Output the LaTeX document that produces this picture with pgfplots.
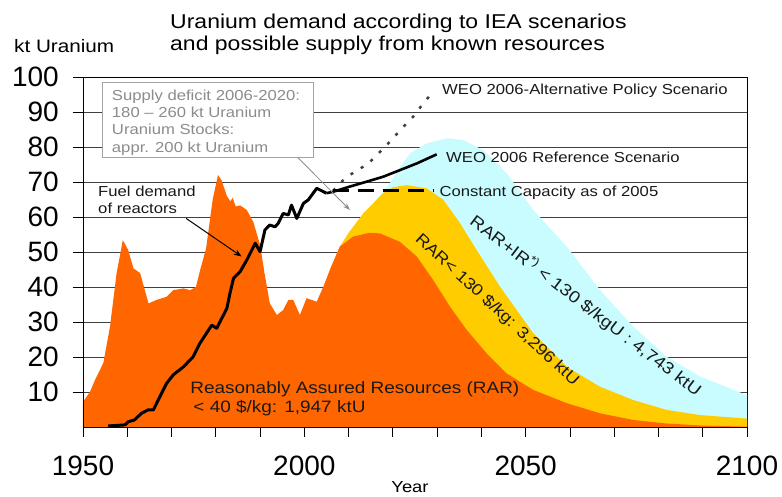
\documentclass[border=0pt]{standalone}
\usepackage{fontspec}
\setmainfont{Liberation Sans}[FakeStretch=1.15]
\newfontfamily\tickfont{Liberation Sans}
\usepackage{pgfplots}
\pgfplotsset{compat=1.18}
\usetikzlibrary{arrows.meta}
\definecolor{rarorange}{HTML}{FF6600}
\definecolor{raryellow}{HTML}{FFCC00}
\definecolor{rarcyan}{HTML}{C8FCFF}
\definecolor{boxgray}{HTML}{8C8C8C}
\newcommand\fs[1]{\fontsize{#1}{#1}\selectfont}

\begin{document}
\begin{tikzpicture}
\path[use as bounding box] (-83pt,-70pt) rectangle (699pt,427pt);
\begin{axis}[
  at={(0pt,0pt)}, anchor=south west,
  width=664pt, height=350pt, scale only axis,
  xmin=1950, xmax=2100, ymin=0, ymax=100,
  xtick={1950,2000,2050,2100},
  xticklabels={1950,2000,2050,2100},
  minor xtick={1960,1970,...,2090},
  ytick={10,20,...,100},
  yticklabels={10,20,30,40,50,60,70,80,90,100},
  xtick pos=left, ytick pos=left,
  tick align=outside,
  major tick length=10pt, minor tick length=10pt,
  tick style={black, line width=0.8pt},
  ymajorgrids, grid style={black!75, line width=0.8pt},
  axis line style={black, line width=0.8pt},
  ticklabel style={font=\tickfont\fs{28}, inner sep=0pt},
  yticklabel style={xshift=-14pt},
  xticklabel style={yshift=-19pt},
  clip=false,
]
% supply curves (filled, back to front)
\addplot[draw=none, fill=rarcyan] coordinates {
  (2005.8,45) (2010,55) (2015,63) (2019.3,69.6) (2021.5,74) (2023.9,78.2)
  (2027.6,81) (2032.1,82.5) (2035.9,82) (2040.4,79.1) (2045.7,72.5)
  (2051.7,62) (2059.3,51.5) (2066.8,39.1) (2074.3,28.7) (2081.8,20.1)
  (2089.4,14.4) (2100,9.1)
} \closedcycle;
\addplot[draw=none, fill=raryellow] coordinates {
  (2005.8,45) (2008,51.5) (2010,55.5) (2013.3,61) (2017.8,66.8) (2020,68.5)
  (2023.1,69.1) (2027.6,68.2) (2031.4,64.9) (2035.2,58.2) (2038.9,50.6)
  (2044.2,40.1) (2051.7,26.8) (2059.3,17.2) (2066.8,11.5) (2074.3,7.7)
  (2081.8,4.9) (2089.4,3.4) (2100,2.4)
} \closedcycle;
\addplot[draw=none, fill=rarorange] coordinates {
  (1950,7.2) (1951.6,10.1) (1952.7,13.4) (1954.6,18.3) (1956.1,28.7)
  (1957.6,44) (1959,53.4) (1960.2,50.6) (1961.4,45.3) (1962.9,44)
  (1964.8,35.3) (1966.6,36.3) (1968.9,37.2) (1970.4,39.1) (1972.7,39.6)
  (1974.2,39.1) (1975.5,40) (1976.5,45) (1977.8,51) (1979.3,65) (1980.5,72)
  (1981.3,70.5) (1982.5,66) (1983.3,64.5) (1983.8,65.5) (1984.5,63)
  (1985.5,63.3) (1987,62) (1988.5,58.5) (1990,52) (1991,44) (1992.2,35.3)
  (1993.8,32) (1995.2,33.4) (1996.4,36.3) (1997.5,36.3) (1999,32)
  (2000.5,36.8) (2002.8,35.8) (2004.3,40.1) (2005.8,45) (2008,51.5)
  (2011,54.4) (2014.8,55.5) (2017.1,55.3) (2021.6,52.9) (2025.4,48.7)
  (2029.1,42) (2032.9,34.4) (2036.7,27.7) (2041.2,21) (2045.7,15.3)
  (2051.7,10.6) (2059.3,6.8) (2066.8,3.9) (2074.3,2) (2081.8,1)
  (2090,0.4) (2100,0.1)
} \closedcycle;
% axis lines again over the fills
\draw[black, line width=0.8pt] (axis cs:1950,100) -- (axis cs:1950,0) -- (axis cs:2100,0);
% demand
\addplot[black, line width=3pt, line join=round] coordinates {
  (1955.7,0.3) (1959.5,0.6) (1960.2,1.5) (1961.6,2) (1963.2,3.9) (1964.7,4.9)
  (1965.9,4.9) (1967.4,8.7) (1968.9,12.5) (1970.4,14.9) (1972.7,17.2)
  (1974.9,20.1) (1976.4,23.9) (1977.9,26.8) (1979.1,29.1) (1980.2,28.2)
  (1982.5,33.9) (1983.2,38.2) (1984,42.5) (1985.5,44.4) (1987,47.7)
  (1988.9,52.5) (1990,50.1) (1991.1,56.3) (1992.2,57.7) (1993.4,57.2)
  (1994.1,58.2) (1995.2,61) (1996.4,60.6) (1997.1,63.4) (1998.3,59.6)
  (1999.8,63.9) (2000.9,64.9) (2002.8,68.2) (2005,66.8)
};
\addplot[black, line width=2.6pt, line join=round] coordinates {
  (2005,66.8) (2006.5,67.2) (2010.3,68.7) (2014.1,70.1) (2017.8,71.5)
  (2021.6,73.4) (2025.4,75.3) (2029.9,77.9)
};
\addplot[black!75, line width=2.5pt, dash pattern=on 3pt off 9pt] coordinates {
  (2006.5,67.5) (2009.2,71.1) (2011.4,72.9) (2014.5,75.3) (2017.5,79.1)
  (2019.7,82) (2022,85.3) (2024.6,88.7) (2026.9,92.5) (2029.1,95.8)
};
\addplot[black, line width=3pt, dash pattern=on 16pt off 9pt] coordinates {
  (2006.5,67.7) (2029.1,67.7)
};
% annotations
\draw[boxgray!80, line width=1pt, fill=white] (axis cs:1954.3,98.3) rectangle (axis cs:2001.96,76.9);
\begin{scope}[every node/.style={anchor=base west, inner sep=0pt, text=boxgray, font=\fs{14.5}}]
\node at (axis cs:1956.5,93.4) {Supply deficit 2006-2020:};
\node at (axis cs:1956.5,88.5) {180 – 260 kt Uranium};
\node at (axis cs:1956.5,83.5) {Uranium Stocks:};
\node at (axis cs:1956.5,78.5) {appr. 200 kt Uranium};
\end{scope}
\draw[boxgray, line width=0.8pt, -{Stealth[length=7pt,width=5pt]}] (axis cs:1998.6,76.9) -- (axis cs:2010.3,62);
\begin{scope}[every node/.style={anchor=base west, inner sep=0pt, text=black!90, font=\fs{14.5}}]
\node at (axis cs:1953.4,65.8) {Fuel demand};
\node at (axis cs:1953.4,61.1) {of reactors};
\node at (axis cs:2031.1,94.9) {WEO 2006-Alternative Policy Scenario};
\node at (axis cs:2032.0,75.5) {WEO 2006 Reference Scenario};
\node at (axis cs:2030.5,65.8) {Constant Capacity as of 2005};
\end{scope}
\draw[black, line width=1pt, -{Stealth[length=8pt,width=6pt]}] (axis cs:1973.3,59.6) -- (axis cs:1985.85,48.7);
\node[anchor=base west, inner sep=0pt, text=black!90, font=\fs{16.5}] at (axis cs:1974.2,9.6) {Reasonably Assured Resources (RAR)};
\node[anchor=base west, inner sep=0pt, text=black!90, font=\fs{16.5}] at (axis cs:1974.9,4.1) {< 40 \$/kg: 1,947 ktU};
\node[rotate=-42.6, inner sep=0pt, text=black!90, font=\fs{16}] at (axis cs:2043.5,33.4) {RAR< 130 \$/kg: 3,296 ktU};
\node[rotate=-37.3, inner sep=0pt, text=black!90, font=\fs{16.5}] at (axis cs:2063.6,34.6) {RAR+IR\textsuperscript{*)} < 130 \$/kgU : 4,743 ktU};
\end{axis}
\node[anchor=base west, inner sep=0pt, font=\fs{20}] at (87pt,398pt) {Uranium demand according to IEA scenarios};
\node[anchor=base west, inner sep=0pt, font=\fs{20}] at (87pt,376.5pt) {and possible supply from known resources};
\node[anchor=base west, inner sep=0pt, font=\fs{18}] at (-69pt,374pt) {kt Uranium};
\node[anchor=base, inner sep=0pt, font=\fs{16}] at (327pt,-66pt) {Year};
\end{tikzpicture}
\end{document}
